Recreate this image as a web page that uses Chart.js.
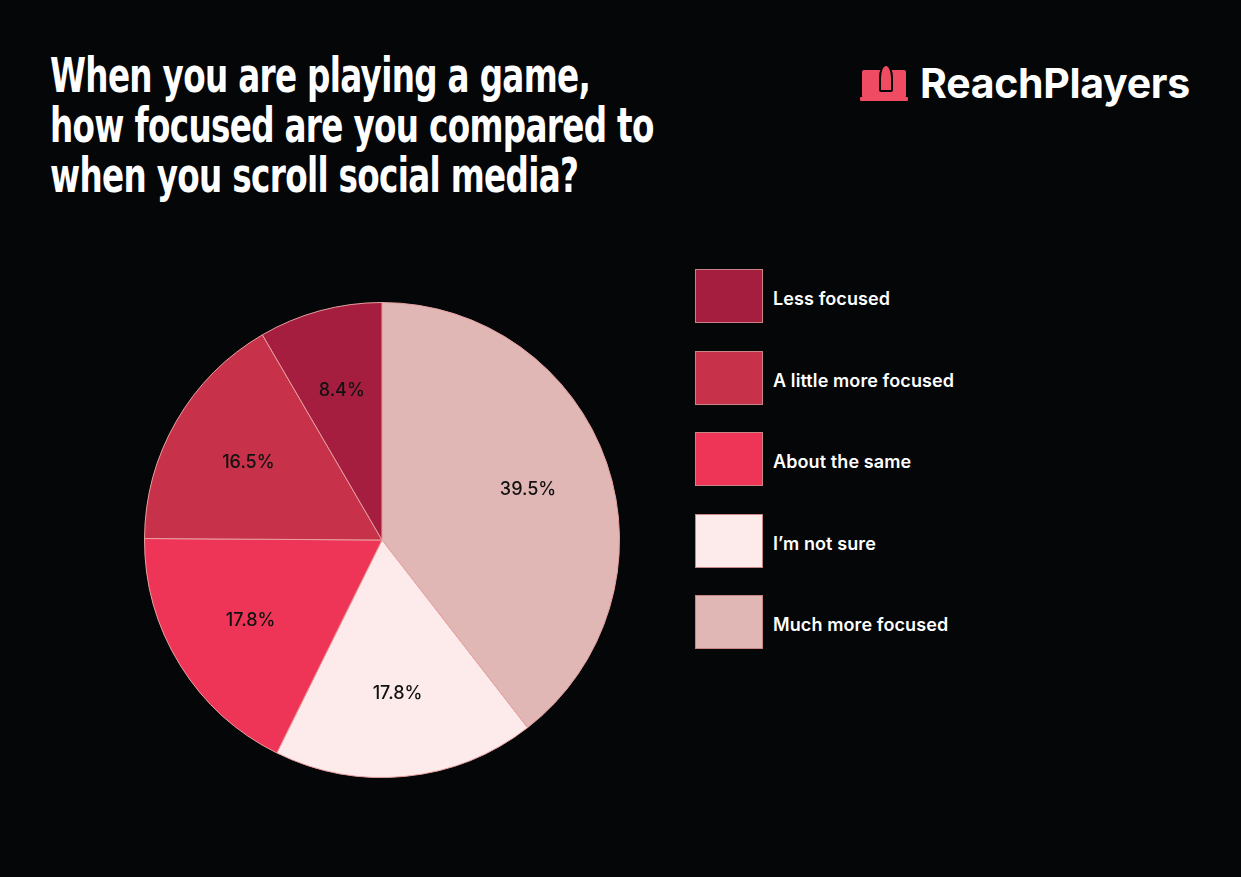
<!DOCTYPE html>
<html lang="en">
<head>
<meta charset="UTF-8">
<title>Focus while gaming</title>
<script src="https://cdn.jsdelivr.net/npm/chart.js"></script>
<style>
  body { margin: 0; background: #040608; width: 1241px; height: 877px; overflow: hidden; position: relative; font-family: Inter, "Noto Sans", sans-serif; }
  #title { position: absolute; left: 50px; top: 50px; margin: 0; color: #fff; font-family: "DejaVu Sans", sans-serif; font-weight: bold; font-size: 48px; line-height: 50px; letter-spacing: -1px; white-space: nowrap; transform: scaleX(0.68); transform-origin: left top; }
  #logo { position: absolute; left: 860px; top: 58px; display: flex; align-items: center; }
  #logo .icon { width: 48px; height: 38px; position: relative; }
  #logo .scr { position: absolute; left: 2px; top: 6px; width: 44px; height: 28px; background: #ef4b63; border-radius: 2px; }
  #logo .base { position: absolute; left: 0; top: 33px; width: 48px; height: 4px; background: #ef4b63; border-radius: 1px; }
  #logo .rk { position: absolute; left: 19px; top: 0; width: 10px; height: 24px; background: #ef4b63; border: 2px solid #040608; border-radius: 50% 50% 2px 2px; }
  #logo span { color: #fff; font-weight: bold; font-size: 41px; margin-left: 12px; letter-spacing: -0.3px; }
  #wrap { position: absolute; left: 132px; top: 290px; width: 500px; height: 500px; }
  #legend { position: absolute; left: 695px; top: 268px; }
  .item { display: flex; align-items: center; height: 56px; margin-bottom: 25.5px; }
  .box { width: 66px; height: 52px; border: 1px solid #c98585; }
  .lab { color: #fff; font-weight: 600; font-size: 18px; margin-left: 10px; padding-top: 5px; letter-spacing: 0.1px; }
</style>
</head>
<body>
<h1 id="title">When you are playing a game,<br>how focused are you compared to<br>when you scroll social media?</h1>
<div id="logo"><div class="icon"><div class="scr"></div><div class="rk"></div><div class="base"></div></div><span>ReachPlayers</span></div>
<div id="wrap"><canvas id="pie" width="500" height="500"></canvas></div>
<div id="legend"></div>
<script>
// legend order
const categories = ['Less focused', 'A little more focused', 'About the same', 'I\u2019m not sure', 'Much more focused'];
const shares = [8.4, 16.5, 17.8, 17.8, 39.5];
const colors = ['#a51e40', '#c8314a', '#ef3557', '#fdebeb', '#e0b7b4'];

const legend = document.getElementById('legend');
categories.forEach((c, i) => {
  const d = document.createElement('div');
  d.className = 'item';
  d.innerHTML = '<div class="box" style="background:' + colors[i] + '"></div><div class="lab">' + c + '</div>';
  legend.appendChild(d);
});

// pie runs clockwise from the top starting with the last category
const order = [4, 3, 2, 1, 0];

const sliceLabels = {
  id: 'sliceLabels',
  afterDatasetsDraw(chart) {
    const ctx = chart.ctx;
    ctx.save();
    ctx.font = '500 18px Inter, sans-serif';
    ctx.fillStyle = '#111';
    ctx.textAlign = 'center';
    ctx.textBaseline = 'middle';
    chart.getDatasetMeta(0).data.forEach((arc, i) => {
      const p = arc.getProps(['startAngle', 'endAngle', 'outerRadius', 'x', 'y'], true);
      const a = (p.startAngle + p.endAngle) / 2;
      const r = p.outerRadius * 0.65;
      ctx.fillText(chart.data.datasets[0].data[i].toFixed(1) + '%', p.x + Math.cos(a) * r, p.y + Math.sin(a) * r);
    });
    ctx.restore();
  }
};

new Chart(document.getElementById('pie'), {
  type: 'pie',
  data: {
    labels: order.map(i => categories[i]),
    datasets: [{
      data: order.map(i => shares[i]),
      backgroundColor: order.map(i => colors[i]),
      borderColor: '#e8a0a0',
      borderWidth: 1
    }]
  },
  options: {
    responsive: false,
    animation: false,
    layout: { padding: 12 },
    plugins: { legend: { display: false }, tooltip: { enabled: false } }
  },
  plugins: [sliceLabels]
});
</script>
</body>
</html>
